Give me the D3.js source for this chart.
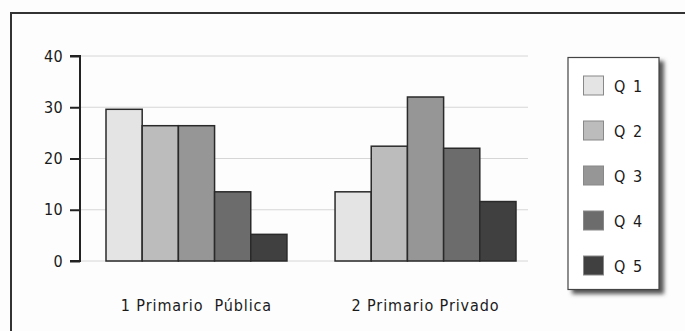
<!DOCTYPE html>
<html><head><meta charset="utf-8">
<script src="https://cdn.jsdelivr.net/npm/d3@7"></script>
<style>
html,body{margin:0;padding:0;background:#fff;}
text{font-family:"DejaVu Sans Condensed","DejaVu Sans",sans-serif;font-stretch:condensed;fill:#1a1a1a;}
</style></head>
<body><svg id="c" width="685" height="331"></svg>
<script>
const groups = ["1 Primario  Pública", "2 Primario Privado"];
const series = ["Q 1", "Q 2", "Q 3", "Q 4", "Q 5"];
const values = [
  [29.6, 26.4, 26.4, 13.5, 5.2],
  [13.5, 22.4, 32.0, 22.0, 11.6]
];
const yTicks = [0, 10, 20, 30, 40];
const colors = ["#e4e4e4", "#bcbcbc", "#969696", "#6c6c6c", "#404040"];

const svg = d3.select("#c");
const defs = svg.append("defs");
const f = defs.append("filter").attr("id","sh").attr("x","-20%").attr("y","-20%").attr("width","140%").attr("height","140%");
f.append("feGaussianBlur").attr("stdDeviation",2);

svg.append("rect").attr("width",685).attr("height",331).attr("fill","#fdfdfd");
svg.append("path").attr("d","M11,331 V13 H685").attr("fill","none").attr("stroke","#333").attr("stroke-width",2);

const y = d3.scaleLinear().domain([0,40]).range([261,56]);
const plotL = 80, plotR = 528;

svg.append("g").selectAll("line").data(yTicks).join("line")
  .attr("x1",plotL).attr("x2",plotR).attr("y1",d=>y(d)).attr("y2",d=>y(d))
  .attr("stroke","#d6d6d6").attr("stroke-width",1);

const x0 = d3.scaleBand().domain(groups).range([106,516]).paddingInner(0.21).paddingOuter(0);
const x1 = d3.scaleBand().domain(series).range([0,x0.bandwidth()]).padding(0);
const color = d3.scaleOrdinal().domain(series).range(colors);

const gg = svg.append("g").selectAll("g").data(groups).join("g")
  .attr("transform",d=>`translate(${x0(d)},0)`);
gg.selectAll("rect").data((g,i)=>series.map((s,j)=>({s,v:values[i][j]}))).join("rect")
  .attr("x",d=>x1(d.s)).attr("width",x1.bandwidth())
  .attr("y",d=>y(d.v)).attr("height",d=>y(0)-y(d.v))
  .attr("fill",d=>color(d.s)).attr("stroke","#2a2a2a").attr("stroke-width",1.5);

const ax = svg.append("g").attr("transform",`translate(${plotL},0)`)
  .call(d3.axisLeft(y).tickValues(yTicks).tickSize(10).tickPadding(7));
ax.select(".domain").attr("stroke","#222").attr("stroke-width",2).attr("d",`M-10,${y(40)}H0V${y(0)}H-10`);
ax.selectAll(".tick line").attr("stroke","#222").attr("stroke-width",2);
ax.selectAll(".tick text").attr("font-size",16).attr("letter-spacing",0.3)
  .style("font-family",'"DejaVu Sans Condensed","DejaVu Sans",sans-serif').style("font-stretch","condensed").attr("fill","#1a1a1a");

svg.append("g").selectAll("text").data(groups).join("text")
  .attr("x",d=>x0(d)+x0.bandwidth()/2).attr("y",311)
  .attr("text-anchor","middle").attr("font-size",16).attr("letter-spacing",0.9)
  .style("white-space","pre").text(d=>d);

const lg = svg.append("g");
lg.append("rect").attr("x",572).attr("y",61).attr("width",92).attr("height",233).attr("fill","#555").attr("filter","url(#sh)");
lg.append("rect").attr("x",568).attr("y",57.5).attr("width",91).attr("height",232).attr("fill","#fff").attr("stroke","#444").attr("stroke-width",1.2);
const ly = d3.scalePoint().domain(series).range([85.5,265.5]);
lg.selectAll("rect.sw").data(series).join("rect").attr("class","sw")
  .attr("x",583.5).attr("y",d=>ly(d)-9.5).attr("width",20).attr("height",19)
  .attr("fill",d=>color(d)).attr("stroke","#888").attr("stroke-width",1);
lg.selectAll("text").data(series).join("text")
  .attr("x",614).attr("y",d=>ly(d)+6).attr("font-size",16).attr("letter-spacing",1.5)
  .style("white-space","pre").text(d=>d);
</script></body></html>
